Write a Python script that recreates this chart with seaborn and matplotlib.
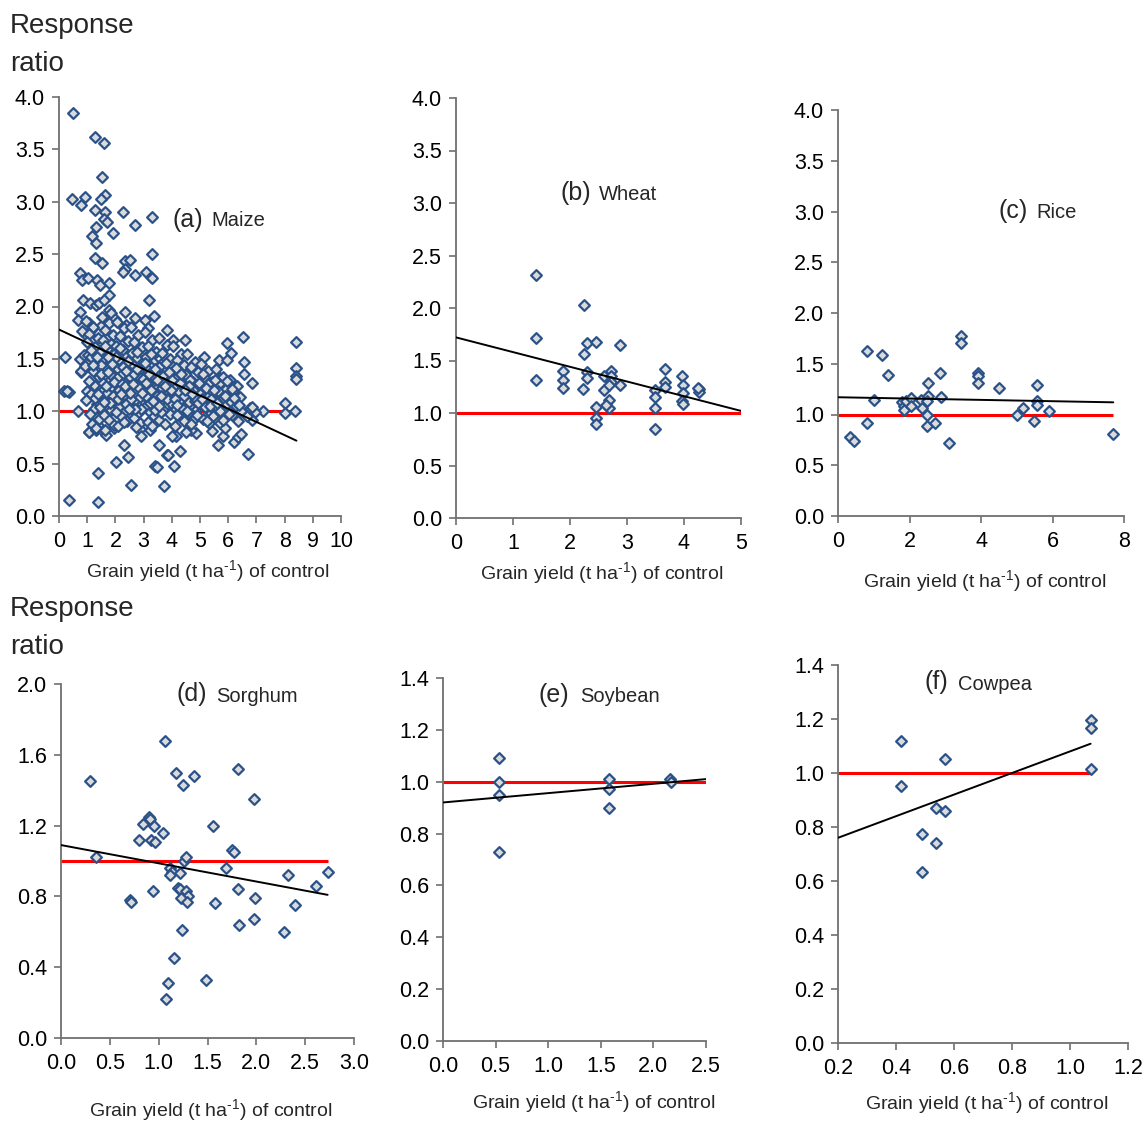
import numpy as np
import pandas as pd
import matplotlib
matplotlib.use("Agg")
import matplotlib.pyplot as plt
from matplotlib.ticker import FormatStrFormatter, FixedLocator
import seaborn as sns

sns.set_theme(style="ticks")
plt.rcParams["font.family"] = ["Liberation Sans", "DejaVu Sans"]
plt.rcParams["mathtext.fontset"] = "custom"
plt.rcParams["mathtext.rm"] = "Liberation Sans"
plt.rcParams["mathtext.it"] = "Liberation Sans:italic"

# ---------------- data: (grain yield of control, response ratio) ----------------
maize_outer = [
    (0.50, 3.85), (1.29, 3.62), (1.61, 3.56), (1.54, 3.24), (0.47, 3.03), (0.92, 3.05),
    (0.78, 2.97), (1.62, 3.06), (1.48, 3.03), (1.29, 2.92), (1.64, 2.90), (1.61, 2.84),
    (1.71, 2.81), (1.30, 2.76), (2.27, 2.90), (2.70, 2.78), (3.29, 2.85), (1.93, 2.70),
    (1.18, 2.67), (1.30, 2.61), (1.28, 2.46), (1.51, 2.42), (3.29, 2.50), (2.35, 2.43),
    (2.50, 2.44), (2.35, 2.36), (2.27, 2.33), (2.69, 2.30), (3.10, 2.33), (3.28, 2.28),
    (3.31, 2.27), (0.73, 2.32), (0.82, 2.25), (1.04, 2.27), (1.36, 2.25), (1.45, 2.21),
    (1.78, 2.22), (1.79, 2.11), (0.85, 2.06), (1.11, 2.03), (1.32, 2.01), (1.42, 2.03),
    (1.60, 2.06), (3.18, 2.06), (1.77, 1.97), (1.84, 1.94), (0.73, 1.95), (0.66, 1.87),
    (1.99, 1.88), (2.33, 1.95), (2.69, 1.89), (3.36, 1.91), (3.06, 1.87), (3.16, 1.79),
    (3.84, 1.78), (0.91, 1.74), (1.06, 1.84), (1.15, 1.78), (0.82, 1.77), (1.50, 1.81),
    (2.39, 1.82), (4.46, 1.68), (4.04, 1.68), (6.54, 1.71), (5.96, 1.65), (6.10, 1.56),
    (5.15, 1.52), (5.67, 1.49), (5.95, 1.49), (8.42, 1.66), (8.42, 1.41), (8.42, 1.34),
    (8.42, 1.31), (6.55, 1.47), (6.55, 1.36), (6.83, 1.27), (5.71, 1.32), (0.21, 1.52),
    (0.73, 1.50), (0.89, 1.54), (0.77, 1.37), (0.19, 1.19), (0.35, 1.18), (0.98, 1.19),
    (0.69, 1.00), (1.06, 0.80), (1.95, 0.84), (2.88, 0.83), (3.22, 0.82), (2.30, 0.68),
    (2.01, 0.52), (2.46, 0.56), (1.38, 0.41), (2.55, 0.30), (3.71, 0.29), (3.42, 0.48),
    (4.08, 0.48), (4.28, 0.62), (3.84, 0.58), (3.55, 0.68), (4.14, 0.76), (0.35, 0.15),
    (1.38, 0.13), (6.70, 0.59), (6.21, 0.71), (6.34, 0.75), (6.47, 0.78), (5.65, 0.68),
    (5.82, 0.76), (5.41, 0.81), (4.87, 0.79), (4.69, 0.82), (4.52, 0.80), (7.23, 1.00),
    (8.00, 1.08), (8.00, 0.98), (8.38, 1.00), (6.95, 0.99), (6.83, 0.92), (6.67, 0.95),
    (6.76, 1.03), (6.86, 1.04), (5.22, 1.06), (5.70, 0.96), (1.07, 0.80), (1.28, 0.95),
    (1.32, 0.82), (1.51, 0.82), (1.66, 0.77), (1.40, 0.87), (2.91, 0.76), (3.46, 0.47),
    (3.87, 0.58), (4.00, 0.76), (0.78, 1.38), (1.04, 1.54), (0.27, 1.19),
]

maize_core = [
    (0.95, 1.86), (1.22, 1.80), (1.08, 1.74), (1.38, 1.70), (0.99, 1.66), (1.27, 1.61),
    (1.45, 1.57), (1.12, 1.52), (1.33, 1.47), (0.93, 1.43), (1.19, 1.38), (1.41, 1.33),
    (1.05, 1.29), (1.29, 1.24), (1.47, 1.20), (1.15, 1.16), (0.97, 1.11), (1.36, 1.07),
    (1.24, 1.02), (1.10, 0.97), (1.43, 0.93), (1.18, 0.88), (1.31, 0.84),
    (1.52, 1.90), (1.78, 1.84), (1.63, 1.78), (1.91, 1.73), (1.57, 1.68), (1.84, 1.64),
    (1.70, 1.59), (1.96, 1.55), (1.55, 1.50), (1.81, 1.46), (1.67, 1.41), (1.93, 1.37),
    (1.60, 1.32), (1.75, 1.28), (1.88, 1.23), (1.53, 1.19), (1.72, 1.14), (1.98, 1.10),
    (1.65, 1.05), (1.86, 1.01), (1.58, 0.96), (1.77, 0.92), (1.94, 0.87), (1.62, 0.82),
    (2.06, 1.85), (2.31, 1.79), (2.18, 1.72), (2.44, 1.67), (2.02, 1.62), (2.27, 1.58),
    (2.40, 1.53), (2.12, 1.49), (2.35, 1.45), (2.08, 1.40), (2.22, 1.36), (2.47, 1.31),
    (2.15, 1.27), (2.38, 1.22), (2.04, 1.18), (2.29, 1.13), (2.45, 1.09), (2.11, 1.04),
    (2.33, 1.00), (2.20, 0.95), (2.42, 0.91), (2.09, 0.86),
    (2.55, 1.80), (2.81, 1.73), (2.67, 1.66), (2.93, 1.61), (2.59, 1.56), (2.76, 1.51),
    (2.97, 1.47), (2.63, 1.42), (2.86, 1.38), (2.52, 1.33), (2.72, 1.29), (2.90, 1.25),
    (2.61, 1.20), (2.84, 1.16), (2.69, 1.11), (2.95, 1.07), (2.57, 1.03), (2.79, 0.98),
    (2.65, 0.94), (2.88, 0.89), (2.74, 0.85),
    (3.04, 1.76), (3.29, 1.68), (3.14, 1.62), (3.43, 1.57), (3.08, 1.52), (3.35, 1.47),
    (3.21, 1.43), (3.47, 1.38), (3.02, 1.34), (3.26, 1.30), (3.40, 1.25), (3.11, 1.21),
    (3.33, 1.17), (3.18, 1.12), (3.45, 1.08), (3.06, 1.04), (3.24, 0.99), (3.38, 0.95),
    (3.15, 0.90), (3.31, 0.86),
    (3.56, 1.70), (3.82, 1.63), (3.67, 1.56), (3.93, 1.50), (3.60, 1.45), (3.77, 1.40),
    (3.97, 1.36), (3.63, 1.31), (3.86, 1.27), (3.52, 1.23), (3.72, 1.18), (3.90, 1.14),
    (3.58, 1.10), (3.80, 1.05), (3.69, 1.01), (3.95, 0.97), (3.54, 0.92), (3.75, 0.88),
    (4.05, 1.62), (4.31, 1.55), (4.17, 1.49), (4.43, 1.44), (4.09, 1.39), (4.26, 1.34),
    (4.47, 1.30), (4.13, 1.26), (4.36, 1.21), (4.02, 1.17), (4.22, 1.13), (4.40, 1.09),
    (4.07, 1.04), (4.29, 1.00), (4.19, 0.96), (4.45, 0.91), (4.11, 0.86),
    (4.55, 1.55), (4.81, 1.47), (4.67, 1.42), (4.93, 1.37), (4.59, 1.32), (4.76, 1.28),
    (4.97, 1.23), (4.63, 1.19), (4.86, 1.15), (4.52, 1.11), (4.72, 1.06), (4.90, 1.02),
    (4.58, 0.98), (4.79, 0.93), (4.69, 0.88),
    (5.04, 1.45), (5.29, 1.38), (5.14, 1.33), (5.43, 1.28), (5.08, 1.23), (5.35, 1.19),
    (5.21, 1.15), (5.47, 1.10), (5.02, 1.06), (5.26, 1.02), (5.40, 0.98), (5.11, 0.93),
    (5.33, 0.89),
    (5.56, 1.40), (5.82, 1.33), (5.67, 1.26), (5.93, 1.21), (5.60, 1.16), (5.77, 1.12),
    (5.97, 1.07), (5.63, 1.03), (5.86, 0.99), (5.52, 0.94), (5.72, 0.89), (5.90, 0.84),
    (6.05, 1.30), (6.31, 1.24), (6.17, 1.19), (6.43, 1.14), (6.09, 1.09), (6.26, 1.05),
    (6.47, 1.00), (6.13, 0.96), (6.36, 0.91),
    (1.12, 1.58), (1.48, 1.44), (1.55, 1.27), (1.69, 1.17), (1.83, 1.35), (2.01, 1.52),
    (2.14, 1.20), (2.26, 1.42), (2.37, 1.07), (2.49, 1.24), (2.58, 1.45), (2.70, 1.18),
    (2.83, 1.33), (2.92, 1.02), (3.00, 1.22), (3.12, 1.40), (3.22, 1.08), (3.36, 1.33),
    (3.49, 1.15), (3.61, 0.99), (3.70, 1.34), (3.84, 1.20), (3.98, 1.08), (4.10, 1.31),
    (4.24, 1.18), (4.38, 1.02), (4.50, 1.35), (4.62, 1.09), (4.75, 1.20), (4.88, 0.96),
    (5.00, 1.16), (5.18, 1.04), (5.30, 1.26), (5.45, 0.95), (5.58, 1.10), (5.70, 1.00),
    (5.88, 1.15), (6.02, 0.97), (6.22, 1.13), (6.40, 1.06), (1.28, 1.13), (1.44, 1.04),
    (1.62, 1.62), (1.74, 1.52), (1.90, 1.15), (2.05, 1.32), (2.17, 1.60), (2.30, 0.90),
    (2.43, 1.48), (2.55, 1.12), (2.66, 1.36), (2.78, 1.57), (2.89, 1.14), (3.05, 1.46),
    (3.17, 1.27), (3.28, 1.55), (3.41, 1.01), (3.53, 1.42), (3.65, 1.22), (3.79, 1.46),
    (3.91, 1.29), (4.03, 1.23), (4.15, 1.41), (4.27, 1.10), (4.41, 1.25), (4.54, 1.00),
    (4.66, 1.30), (4.82, 1.10), (4.95, 1.27), (5.10, 1.36), (5.24, 0.91), (5.38, 1.12),
    (5.52, 1.30), (5.65, 1.19), (5.80, 0.92), (5.95, 1.29), (6.12, 1.21),
    (1.35, 1.52), (1.50, 1.36), (1.66, 1.24), (1.80, 1.08), (1.96, 1.28), (2.10, 1.12),
    (2.24, 1.26), (2.39, 1.38), (2.52, 1.17), (2.68, 1.02), (2.82, 1.22), (2.98, 1.31),
    (3.10, 1.15), (3.26, 1.20), (3.40, 1.40), (3.55, 1.05), (3.68, 1.27), (3.83, 1.12),
    (3.96, 1.20), (4.12, 1.12), (4.28, 1.27), (4.44, 1.15), (4.60, 1.24), (4.77, 1.14),
    (4.92, 1.08), (5.08, 1.12), (5.22, 1.22), (5.36, 1.05), (5.50, 1.20), (5.62, 1.08),
    (1.20, 1.44), (1.40, 1.16), (1.58, 1.09), (1.73, 1.37), (1.88, 1.45), (2.02, 0.99),
    (2.19, 1.16), (2.34, 1.24), (2.47, 1.02), (2.62, 1.26), (2.77, 1.40), (2.93, 1.17),
    (3.07, 1.27), (3.19, 1.36), (3.33, 1.10), (3.47, 1.30), (3.62, 1.15), (3.76, 1.24),
    (3.89, 1.37), (4.01, 1.30), (4.18, 1.06), (4.34, 1.36), (4.48, 1.20), (4.70, 1.16),
]

wheat_points = [
    (1.40, 2.31), (1.40, 1.71), (1.40, 1.31), (1.87, 1.40), (1.87, 1.31), (1.87, 1.24),
    (2.25, 2.03), (2.30, 1.67), (2.25, 1.56), (2.46, 1.68), (2.30, 1.39), (2.30, 1.33),
    (2.23, 1.23), (2.46, 1.06), (2.46, 0.95), (2.46, 0.90), (2.60, 1.35), (2.60, 1.22),
    (2.68, 1.12), (2.68, 1.05), (2.63, 1.08), (2.72, 1.40), (2.72, 1.35), (2.72, 1.30),
    (2.68, 1.27), (2.88, 1.65), (2.88, 1.27), (3.49, 1.22), (3.49, 1.15), (3.49, 1.05),
    (3.49, 0.85), (3.67, 1.42), (3.67, 1.30), (3.67, 1.25), (3.96, 1.35), (3.98, 1.27),
    (3.98, 1.19), (3.96, 1.11), (3.99, 1.09), (4.26, 1.23), (4.26, 1.20), (4.25, 1.24),
]

rice_points = [
    (0.34, 0.78), (0.45, 0.74), (0.80, 1.63), (0.80, 0.92), (1.01, 1.14), (1.23, 1.59),
    (1.41, 1.39), (1.80, 1.12), (1.85, 1.08), (1.85, 1.04), (1.90, 1.13), (2.04, 1.16),
    (2.04, 1.08), (2.31, 1.14), (2.36, 1.06), (2.53, 1.31), (2.53, 1.18), (2.48, 1.13),
    (2.50, 1.00), (2.48, 0.89), (2.71, 0.92), (2.85, 1.41), (2.87, 1.17), (3.11, 0.72),
    (3.43, 1.77), (3.43, 1.70), (3.92, 1.41), (3.93, 1.38), (3.92, 1.31), (4.51, 1.26),
    (5.02, 1.00), (5.17, 1.06), (5.49, 0.94), (5.58, 1.29), (5.58, 1.13), (5.58, 1.09),
    (5.91, 1.03), (7.68, 0.81),
]

sorghum_points = [
    (0.30, 1.45), (0.36, 1.02), (0.71, 0.78), (0.72, 0.77), (0.80, 1.12), (0.84, 1.21),
    (0.90, 1.25), (0.91, 1.24), (0.95, 1.20), (0.92, 1.12), (0.96, 1.11), (0.94, 0.83),
    (1.04, 1.16), (1.06, 1.68), (1.07, 0.22), (1.10, 0.31), (1.16, 0.45), (1.18, 1.50),
    (1.25, 1.43), (1.36, 1.48), (1.12, 0.96), (1.14, 0.94), (1.12, 0.92), (1.22, 0.93),
    (1.26, 1.00), (1.28, 1.02), (1.20, 0.85), (1.22, 0.84), (1.28, 0.83), (1.30, 0.80),
    (1.23, 0.79), (1.29, 0.77), (1.24, 0.61), (1.48, 0.33), (1.56, 1.20), (1.58, 0.76),
    (1.69, 0.96), (1.75, 1.06), (1.77, 1.05), (1.81, 1.52), (1.81, 0.84), (1.82, 0.64),
    (1.98, 1.35), (1.99, 0.79), (1.98, 0.67), (2.28, 0.60), (2.32, 0.92), (2.40, 0.75),
    (2.61, 0.86), (2.73, 0.94),
]

soybean_points = [
    (0.53, 1.09), (0.53, 1.00), (0.53, 0.95), (0.53, 0.73),
    (1.58, 1.01), (1.58, 0.97), (1.58, 0.90), (2.16, 1.01), (2.17, 1.00),
]

cowpea_points = [
    (0.417, 1.117), (0.417, 0.953), (0.489, 0.775), (0.489, 0.633), (0.538, 0.871),
    (0.538, 0.741), (0.568, 1.052), (0.568, 0.860), (1.071, 1.196), (1.071, 1.167),
    (1.071, 1.014),
]

# fitted trend lines: (intercept, slope, x start, x end)
maize_fit = (1.78, -0.126, 0.0, 8.42)
wheat_fit = (1.72, -0.140, 0.0, 5.0)
rice_fit = (1.17, -0.0065, 0.0, 7.7)
sorghum_fit = (1.09, -0.103, 0.0, 2.73)
soybean_fit = (0.92, 0.036, 0.0, 2.5)
cowpea_fit = (0.680, 0.400, 0.2, 1.071)

# reference line (ratio = 1): x start, x end
maize_ref = (0.0, 8.42)
wheat_ref = (0.0, 5.0)
rice_ref = (0.0, 7.7)
sorghum_ref = (0.0, 2.73)
soybean_ref = (0.0, 2.5)
cowpea_ref = (0.2, 1.071)

crop_tags = ["(a)", "(b)", "(c)", "(d)", "(e)", "(f)"]
crop_names = ["Maize", "Wheat", "Rice", "Sorghum", "Soybean", "Cowpea"]

maize_xticks = [0, 1, 2, 3, 4, 5, 6, 7, 8, 9, 10]
wheat_xticks = [0, 1, 2, 3, 4, 5]
rice_xticks = [0, 2, 4, 6, 8]
sorghum_xticks = [0.0, 0.5, 1.0, 1.5, 2.0, 2.5, 3.0]
soybean_xticks = [0.0, 0.5, 1.0, 1.5, 2.0, 2.5]
cowpea_xticks = [0.2, 0.4, 0.6, 0.8, 1.0, 1.2]
top_yticks = [0.0, 0.5, 1.0, 1.5, 2.0, 2.5, 3.0, 3.5, 4.0]
sorghum_yticks = [0.0, 0.4, 0.8, 1.2, 1.6, 2.0]
legume_yticks = [0.0, 0.2, 0.4, 0.6, 0.8, 1.0, 1.2, 1.4]

XLABEL = r"Grain yield (t ha$^{\text{-1}}$) of control"

# ---------------- figure ----------------
W, H = 1145, 1121
fig = plt.figure(figsize=(W / 100, H / 100), dpi=100)


def px_axes(x0, x1, ytop, ybot):
    return fig.add_axes([x0 / W, 1 - ybot / H, (x1 - x0) / W, (ybot - ytop) / H])


FACE = "#D9DADC"
EDGE = "#2B5189"
SPINE = "#707070"

panels = [
    dict(box=(59, 341, 97, 516), pts=maize_outer + maize_core, fit=maize_fit, ref=maize_ref,
         xt=maize_xticks, yt=top_yticks, xfmt="%d", yfmt="%.1f",
         tag=(173, 220), name=(211, 221), xlab=(208, 571)),
    dict(box=(456, 741, 98, 518), pts=wheat_points, fit=wheat_fit, ref=wheat_ref,
         xt=wheat_xticks, yt=top_yticks, xfmt="%d", yfmt="%.1f",
         tag=(560, 193), name=(599, 195), xlab=(602, 573)),
    dict(box=(838, 1124, 110, 516), pts=rice_points, fit=rice_fit, ref=rice_ref,
         xt=rice_xticks, yt=top_yticks, xfmt="%d", yfmt="%.1f",
         tag=(999, 211), name=(1036, 213), xlab=(985, 581)),
    dict(box=(61, 354, 684, 1038), pts=sorghum_points, fit=sorghum_fit, ref=sorghum_ref,
         xt=sorghum_xticks, yt=sorghum_yticks, xfmt="%.1f", yfmt="%.1f",
         tag=(177, 694), name=(216, 696), xlab=(211, 1110)),
    dict(box=(443, 706, 678, 1041), pts=soybean_points, fit=soybean_fit, ref=soybean_ref,
         xt=soybean_xticks, yt=legume_yticks, xfmt="%.1f", yfmt="%.1f",
         tag=(539, 695), name=(580, 697), xlab=(594, 1102)),
    dict(box=(838, 1128, 665, 1043), pts=cowpea_points, fit=cowpea_fit, ref=cowpea_ref,
         xt=cowpea_xticks, yt=legume_yticks, xfmt="%.1f", yfmt="%.1f",
         tag=(925, 682), name=(958, 684), xlab=(987, 1103)),
]

for i, p in enumerate(panels):
    ax = px_axes(*p["box"])
    df = pd.DataFrame(p["pts"], columns=["yield", "ratio"])

    # ratio = 1 reference and fitted trend
    ref_df = pd.DataFrame({"x": list(p["ref"]), "y": [1.0, 1.0]})
    ax.plot(ref_df["x"], ref_df["y"], color="#FF0000", lw=2.2, zorder=2,
            solid_capstyle="butt")
    b0, b1, xs, xe = p["fit"]
    fx = np.array([xs, xe])
    ax.plot(fx, b0 + b1 * fx, color="black", lw=1.4, zorder=4)

    sns.scatterplot(data=df, x="yield", y="ratio", ax=ax, marker="D", s=30,
                    color=FACE, edgecolor=EDGE, linewidth=1.6, zorder=3,
                    clip_on=False, legend=False)

    ax.set_xlim(p["xt"][0], p["xt"][-1])
    ax.set_ylim(p["yt"][0], p["yt"][-1])
    ax.xaxis.set_major_locator(FixedLocator(p["xt"]))
    ax.yaxis.set_major_locator(FixedLocator(p["yt"]))
    ax.xaxis.set_major_formatter(FormatStrFormatter(p["xfmt"]))
    ax.yaxis.set_major_formatter(FormatStrFormatter(p["yfmt"]))
    ax.set_xlabel("")
    ax.set_ylabel("")
    ax.set_facecolor("white")
    for s in ["top", "right"]:
        ax.spines[s].set_visible(False)
    for s in ["left", "bottom"]:
        ax.spines[s].set_color(SPINE)
        ax.spines[s].set_linewidth(1.3)
    ax.tick_params(axis="both", direction="out", length=5, width=1.2, color=SPINE,
                   labelsize=15.5, labelcolor="black")
    ax.tick_params(axis="x", pad=6)
    ax.tick_params(axis="y", pad=5)

    tx, ty = p["tag"]
    fig.text(tx / W, 1 - ty / H, crop_tags[i], fontsize=18, ha="left", va="center")
    nx, ny = p["name"]
    fig.text(nx / W, 1 - ny / H, crop_names[i], fontsize=14.5, ha="left", va="center")
    lx, ly = p["xlab"]
    fig.text(lx / W, 1 - ly / H, XLABEL, fontsize=14, ha="center", va="center")

# y-axis titles for both rows
for yy in (26, 609):
    fig.text(10 / W, 1 - yy / H, "Response", fontsize=20, ha="left", va="center")
    fig.text(10 / W, 1 - (yy + 38) / H, "ratio", fontsize=20, ha="left", va="center")

fig.savefig("out.png", dpi=100, facecolor="white")
